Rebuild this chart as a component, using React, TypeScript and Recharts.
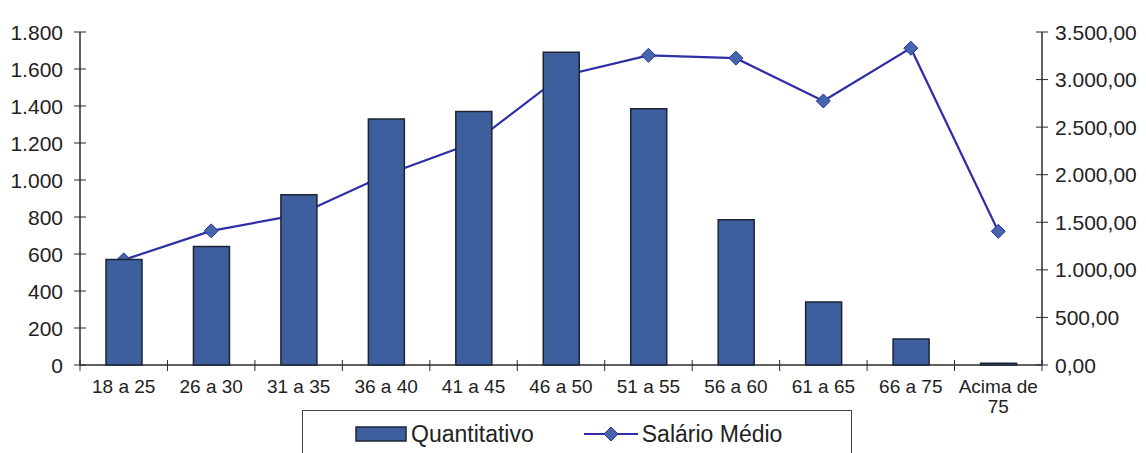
import { ComposedChart, Bar, Line, XAxis, YAxis, Legend } from "recharts";

const categories = ["18 a 25", "26 a 30", "31 a 35", "36 a 40", "41 a 45", "46 a 50", "51 a 55", "56 a 60", "61 a 65", "66 a 75", "Acima de 75"];
const quantitativo = [570, 640, 920, 1330, 1370, 1690, 1385, 785, 340, 140, 10];
const salarioMedio = [1105, 1410, 1580, 2000, 2335, 3035, 3255, 3225, 2775, 3330, 1405];

const leftTicks = [0, 200, 400, 600, 800, 1000, 1200, 1400, 1600, 1800];
const rightTicks = [0, 500, 1000, 1500, 2000, 2500, 3000, 3500];

const data = categories.map((c, i) => ({ cat: c, qtd: quantitativo[i], sal: salarioMedio[i] }));

const FONT = "'Liberation Sans', Arial, sans-serif";
const AXIS = "#2b2b2b";
const BAR_FILL = "#3d5f9e";
const BAR_STROKE = "#1d2433";
const LINE = "#2e2ea6";
const DOT_FILL = "#4565ad";

// 1800 -> "1.800"
const fmtInt = (v: number) => String(Math.round(v)).replace(/\B(?=(\d{3})+(?!\d))/g, ".");
// 3500 -> "3.500,00"
const fmtMoney = (v: number) => fmtInt(Math.floor(v)) + "," + (v % 1).toFixed(2).slice(2);

function LeftTick({ x, y, payload }: any) {
  return (
    <g>
      <line x1={x - 6} x2={x + 6} y1={y} y2={y} stroke={AXIS} />
      <text x={x - 17} y={y} dy="0.36em" textAnchor="end" fontSize={21} fill="#222" fontFamily={FONT}>
        {fmtInt(payload.value)}
      </text>
    </g>
  );
}

function RightTick({ x, y, payload }: any) {
  return (
    <g>
      <line x1={x - 6} x2={x + 6} y1={y} y2={y} stroke={AXIS} />
      <text x={x + 13} y={y} dy="0.36em" textAnchor="start" fontSize={21} fill="#222" fontFamily={FONT}>
        {fmtMoney(payload.value)}
      </text>
    </g>
  );
}

function CatTick({ x, y, payload, width, visibleTicksCount, index }: any) {
  const band = width / visibleTicksCount;
  const label = String(payload.value);
  const words = label.split(" ");
  const lines = label.length > 8 ? [words.slice(0, 2).join(" "), words.slice(2).join(" ")] : [label];
  return (
    <g>
      {index === 0 && <line x1={x - band / 2} x2={x - band / 2} y1={y - 5} y2={y + 6} stroke={AXIS} />}
      <line x1={x + band / 2} x2={x + band / 2} y1={y - 5} y2={y + 6} stroke={AXIS} />
      <text x={x} y={y + 28} textAnchor="middle" fontSize={19} fill="#222" fontFamily={FONT}>
        {lines.map((l, i) => (
          <tspan key={i} x={x} dy={i === 0 ? 0 : 20}>
            {l}
          </tspan>
        ))}
      </text>
    </g>
  );
}

function Diamond({ cx, cy }: any) {
  const r = 7;
  return (
    <polygon
      points={`${cx},${cy - r} ${cx + r},${cy} ${cx},${cy + r} ${cx - r},${cy}`}
      fill={DOT_FILL}
      stroke={LINE}
      strokeWidth={1}
    />
  );
}

function LegendBox() {
  return (
    <div
      style={{
        width: 496,
        height: 46,
        border: "1px solid #444",
        background: "#fff",
        display: "flex",
        alignItems: "center",
        paddingLeft: 52,
        boxSizing: "content-box",
        fontFamily: FONT,
        fontSize: 23,
        color: "#222",
        whiteSpace: "nowrap",
      }}
    >
      <svg width={52} height={16} style={{ marginRight: 4 }}>
        <rect x={1} y={1} width={50} height={14} fill={BAR_FILL} stroke={BAR_STROKE} strokeWidth={1.5} />
      </svg>
      <span>Quantitativo</span>
      <svg width={54} height={16} style={{ marginLeft: 50, marginRight: 4 }}>
        <line x1={0} x2={54} y1={8} y2={8} stroke={LINE} strokeWidth={2} />
        <polygon points="27,1 34,8 27,15 20,8" fill={DOT_FILL} stroke={LINE} />
      </svg>
      <span>Salário Médio</span>
    </div>
  );
}

export default function App() {
  return (
    <div style={{ position: "absolute", left: 0, top: 0, background: "#fff" }}>
      <ComposedChart width={1146} height={453} data={data} margin={{ top: 32, right: 10, bottom: 58, left: 10 }}>
        <XAxis
          xAxisId="cat"
          dataKey="cat"
          height={30}
          interval={0}
          tickLine={false}
          tickSize={0}
          tickMargin={0}
          axisLine={{ stroke: AXIS, strokeWidth: 1.5 }}
          tick={<CatTick />}
        />
        <XAxis xAxisId="top" dataKey="cat" orientation="top" height={0} tick={false} tickLine={false} axisLine={{ stroke: AXIS, strokeWidth: 1.5 }} />
        <YAxis
          yAxisId="left"
          width={70}
          domain={[0, 1800]}
          ticks={leftTicks}
          interval={0}
          tickLine={false}
          tickSize={0}
          tickMargin={0}
          axisLine={{ stroke: AXIS, strokeWidth: 1.5 }}
          tick={<LeftTick />}
        />
        <YAxis
          yAxisId="right"
          orientation="right"
          width={94}
          domain={[0, 3500]}
          ticks={rightTicks}
          interval={0}
          tickLine={false}
          tickSize={0}
          tickMargin={0}
          axisLine={{ stroke: AXIS, strokeWidth: 1.5 }}
          tick={<RightTick />}
        />
        {/* line and its markers sit behind the bars, as in the scan */}
        <Line
          xAxisId="cat"
          yAxisId="right"
          dataKey="sal"
          name="Salário Médio"
          stroke={LINE}
          strokeWidth={2.2}
          dot={(p: any) => <Diamond key={p.index} {...p} />}
          activeDot={false}
          zIndex={250}
          isAnimationActive={false}
        />
        <Bar
          xAxisId="cat"
          yAxisId="left"
          dataKey="qtd"
          name="Quantitativo"
          barSize={36}
          fill={BAR_FILL}
          stroke={BAR_STROKE}
          strokeWidth={1.5}
          zIndex={900}
          isAnimationActive={false}
        />
        <Legend
          verticalAlign="middle"
          align="center"
          layout="horizontal"
          content={() => <LegendBox />}
          wrapperStyle={{ left: 302, top: 410, width: 550 }}
        />
      </ComposedChart>
    </div>
  );
}
